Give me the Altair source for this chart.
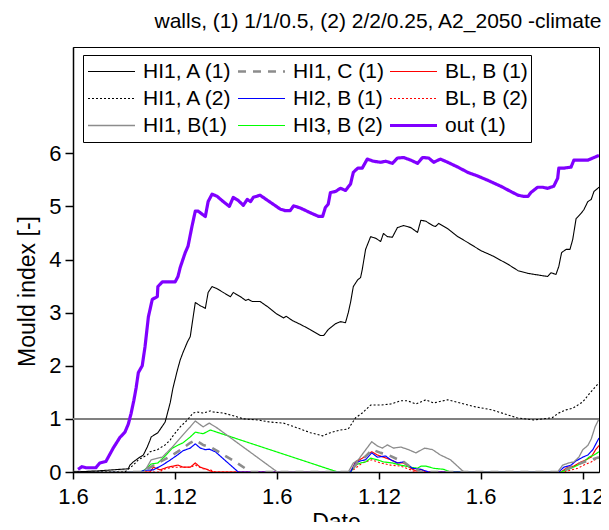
import altair as alt
import pandas as pd

FONT = "Liberation Sans"
START = "2049-06-01"

# legend order (Vega fills the 3-column legend column by column)
series_names = ["HI1, A (1)", "HI1, A (2)", "HI1, B(1)",
                "HI1, C (1)", "HI2, B (1)", "HI3, B (2)",
                "BL, B (1)", "BL, B (2)", "out (1)"]
series_colors = ["#000000", "#000000", "#8c8c8c",
                 "#8c8c8c", "#0000ff", "#00ff00",
                 "#ff0000", "#ff0000", "#8000ff"]
series_dash = [[1, 0], [2, 2], [1, 0],
               [8, 7], [1, 0], [1, 0],
               [1, 0], [2, 2], [1, 0]]
series_width = [1.1, 1.1, 1.3, 2.6, 1.2, 1.2, 1.2, 1.1, 3.2]

# day offsets from 1 June (first year) and mould index values
hi1_a1_days = [0, 43, 84, 99, 102, 108, 117, 126, 133, 138, 140, 152, 165, 174, 179, 187, 192, 197, 205, 210,
               219, 228, 237, 242, 249, 258, 269, 282, 287, 300, 309, 314, 321, 335, 350, 364, 377, 382, 393, 407,
               425, 443, 449, 457, 470, 479, 488, 493, 497, 502, 510, 515, 518, 524, 533, 542, 551, 556, 563, 572,
               581, 592, 605, 617, 623, 632, 644, 649, 655, 671, 689, 707, 730, 753, 779, 797, 814, 838, 850, 856,
               865, 870, 875, 883, 890, 895, 901, 910, 915, 922, 928, 933, 942]
hi1_a1_vals = [0, 0.02, 0.05, 0.06, 0.13, 0.19, 0.26, 0.32, 0.47, 0.6, 0.66, 0.74, 0.94, 1.3, 1.58, 1.92, 2.11, 2.25, 2.45, 2.55,
               3.19, 3.13, 3.08, 3.38, 3.49, 3.45, 3.38, 3.30, 3.38, 3.30, 3.23, 3.25, 3.21, 3.21, 3.1, 2.98, 2.9, 2.93, 2.85, 2.78,
               2.68, 2.57, 2.57, 2.68, 2.79, 2.83, 2.81, 3.0, 3.19, 3.49, 3.62, 3.66, 3.81, 4.19, 4.43, 4.40, 4.34, 4.49, 4.43, 4.42,
               4.60, 4.64, 4.60, 4.51, 4.74, 4.72, 4.64, 4.62, 4.68, 4.58, 4.43, 4.32, 4.17, 4.06, 3.91, 3.79, 3.74, 3.70, 3.68, 3.75,
               3.72, 3.87, 4.13, 4.19, 4.19, 4.38, 4.77, 4.87, 4.94, 5.09, 5.13, 5.28, 5.36]

hi1_c1_days = [0, 120, 127, 152, 172, 187, 197, 210, 219, 233, 246, 264, 294, 318, 497, 510, 520, 536, 551, 565,
               583, 592, 605, 617, 623, 874, 892, 910, 928, 942]
hi1_c1_vals = [0, 0, 0.02, 0.17, 0.28, 0.38, 0.45, 0.55, 0.6, 0.51, 0.47, 0.36, 0.17, 0, 0, 0.19, 0.25, 0.42, 0.36, 0.32,
               0.23, 0.19, 0.09, 0.04, 0, 0, 0.09, 0.17, 0.23, 0.28]

bl_b1_days = [0, 138, 144, 156, 169, 179, 188, 197, 210, 219, 228, 237, 246, 251, 497, 506, 518, 535, 545, 556,
              569, 581, 592, 605, 614, 623, 632, 874, 886, 897, 910, 919, 928, 936, 942]
bl_b1_vals = [0, 0, 0.09, 0.04, 0.09, 0.11, 0.13, 0.09, 0.09, 0.17, 0.09, 0.06, 0.02, 0, 0, 0.19, 0.26, 0.38, 0.32, 0.28,
              0.23, 0.17, 0.17, 0.07, 0.02, 0.05, 0, 0, 0.09, 0.11, 0.19, 0.23, 0.28, 0.42, 0.5]

hi1_a2_days = [0, 93, 108, 117, 133, 138, 151, 165, 174, 179, 192, 205, 215, 222, 233, 246, 251, 269, 287, 305,
               330, 353, 377, 402, 425, 447, 461, 479, 493, 506, 518, 533, 551, 569, 587, 599, 614, 632, 646, 671,
               719, 750, 795, 825, 858, 870, 883, 895, 913, 926, 942]
hi1_a2_vals = [0, 0, 0.13, 0.23, 0.32, 0.38, 0.42, 0.51, 0.6, 0.68, 0.85, 0.98, 1.11, 1.13, 1.11, 1.15, 1.13, 1.11, 1.06, 1.0,
               0.98, 0.94, 0.92, 0.83, 0.74, 0.68, 0.74, 0.79, 0.81, 1.02, 1.11, 1.26, 1.26, 1.28, 1.34, 1.34, 1.28, 1.36, 1.30, 1.36,
               1.23, 1.17, 1.02, 0.98, 1.02, 1.11, 1.17, 1.2, 1.32, 1.49, 1.68]

hi2_b1_days = [0, 120, 127, 144, 160, 172, 187, 197, 210, 219, 228, 237, 244, 255, 296, 497, 506, 515, 524, 535,
               545, 560, 569, 581, 592, 608, 623, 637, 870, 879, 892, 901, 913, 922, 931, 936, 942]
hi2_b1_vals = [0, 0, 0.03, 0.04, 0.13, 0.21, 0.32, 0.40, 0.45, 0.53, 0.45, 0.42, 0.43, 0.38, 0, 0, 0.17, 0.21, 0.23, 0.36,
               0.28, 0.30, 0.23, 0.17, 0.19, 0.07, 0.05, 0, 0, 0.09, 0.13, 0.21, 0.28, 0.32, 0.42, 0.52, 0.64]

bl_b2_days = [0, 156, 161, 179, 192, 210, 219, 233, 246, 255, 497, 502, 518, 535, 551, 569, 587, 605, 614,
              879, 892, 904, 915, 928, 942]
bl_b2_vals = [0, 0, 0.05, 0.09, 0.09, 0.09, 0.13, 0.06, 0.04, 0, 0, 0.04, 0.17, 0.23, 0.17, 0.13, 0.11, 0.04, 0,
              0, 0.04, 0.07, 0.13, 0.19, 0.27]

hi1_b1_days = [0, 127, 133, 140, 160, 178, 197, 210, 219, 233, 244, 258, 366, 493, 502, 511, 520, 535, 545, 554,
               563, 574, 587, 601, 614, 630, 644, 658, 676, 700, 868, 877, 888, 897, 906, 913, 922, 928, 935, 942]
hi1_b1_vals = [0, 0, 0.1, 0.23, 0.28, 0.47, 0.7, 0.85, 0.96, 0.85, 0.92, 0.83, 0, 0, 0.17, 0.23, 0.36, 0.57, 0.49, 0.45,
               0.51, 0.45, 0.47, 0.42, 0.36, 0.45, 0.42, 0.32, 0.23, 0, 0, 0.13, 0.17, 0.19, 0.28, 0.42, 0.5, 0.62, 0.85, 1.0]

hi3_b2_days = [0, 120, 127, 140, 152, 165, 178, 187, 197, 210, 219, 233, 246, 474, 497, 506, 515, 524, 533, 545,
               556, 572, 587, 605, 617, 623, 632, 646, 664, 676, 874, 892, 904, 915, 924, 933, 942]
hi3_b2_vals = [0, 0, 0.03, 0.15, 0.17, 0.3, 0.45, 0.5, 0.55, 0.66, 0.75, 0.72, 0.79, 0, 0, 0.13, 0.17, 0.19, 0.26, 0.23,
               0.19, 0.17, 0.13, 0.09, 0.07, 0.11, 0.11, 0.07, 0.05, 0, 0, 0.07, 0.13, 0.19, 0.28, 0.32, 0.38]

out1_days = [9, 16, 23, 41, 48, 59, 72, 84, 93, 99, 104, 109, 113, 117, 124, 129, 135, 142, 151, 152,
             160, 183, 188, 192, 201, 206, 213, 219, 224, 237, 242, 249, 258, 269, 280, 287, 296, 305, 312, 318,
             323, 335, 353, 371, 380, 389, 395, 407, 425, 440, 447, 452, 457, 461, 470, 479, 488, 497, 502, 510,
             518, 527, 538, 551, 560, 572, 581, 592, 605, 617, 626, 637, 646, 658, 671, 689, 707, 725, 743, 766,
             784, 797, 806, 815, 820, 832, 841, 850, 861, 868, 870, 879, 892, 897, 910, 922, 931, 942]
out1_vals = [0.05, 0.1, 0.08, 0.08, 0.17, 0.2, 0.45, 0.65, 0.75, 0.9, 1.1, 1.35, 1.58, 1.87, 2.0, 2.36, 2.92, 3.25, 3.3, 3.49,
             3.58, 3.58, 3.68, 3.85, 4.13, 4.25, 4.62, 4.91, 4.91, 4.81, 5.09, 5.23, 5.19, 5.09, 5.0, 5.17, 5.11, 5.02, 5.13, 5.09,
             5.17, 5.21, 5.08, 4.95, 4.92, 4.92, 5.01, 4.97, 4.88, 4.81, 4.81, 4.98, 5.04, 5.26, 5.28, 5.34, 5.30, 5.42, 5.64, 5.72,
             5.72, 5.89, 5.85, 5.83, 5.85, 5.81, 5.91, 5.92, 5.87, 5.81, 5.92, 5.91, 5.83, 5.89, 5.83, 5.74, 5.64, 5.57, 5.49, 5.38,
             5.28, 5.21, 5.19, 5.19, 5.26, 5.36, 5.36, 5.34, 5.38, 5.53, 5.72, 5.72, 5.74, 5.87, 5.87, 5.87, 5.91, 5.96]

# drawing order (bottom to top)
draw = [
    ("BL, B (2)", bl_b2_days, bl_b2_vals),
    ("BL, B (1)", bl_b1_days, bl_b1_vals),
    ("HI3, B (2)", hi3_b2_days, hi3_b2_vals),
    ("HI2, B (1)", hi2_b1_days, hi2_b1_vals),
    ("HI1, C (1)", hi1_c1_days, hi1_c1_vals),
    ("HI1, B(1)", hi1_b1_days, hi1_b1_vals),
    ("HI1, A (2)", hi1_a2_days, hi1_a2_vals),
    ("HI1, A (1)", hi1_a1_days, hi1_a1_vals),
    ("out (1)", out1_days, out1_vals),
]

rows = []
start = pd.Timestamp(START)
for order, (name, days, vals) in enumerate(draw):
    for d, v in zip(days, vals):
        rows.append({"series": name, "order": order,
                     "date": (start + pd.Timedelta(days=d)).strftime("%Y-%m-%dT%H:%M:%S"),
                     "value": v})
df = pd.DataFrame(rows)

tick_dates = [alt.DateTime(year=y, month=m, date=1) for y in (2049, 2050, 2051) for m in (6, 12)]
x_domain = [alt.DateTime(year=2049, month=6, date=1), alt.DateTime(year=2051, month=12, date=30)]

legend = alt.Legend(
    orient="none", legendX=10, legendY=8, columns=3, title=None,
    symbolType="stroke", symbolSize=2209, clipHeight=27, rowPadding=0,
    columnPadding=3, labelOffset=6, symbolOffset=0,
    labelFont=FONT, labelFontSize=21, labelColor="black", labelLimit=0,
    padding=3, strokeColor="black", fillColor="white",
)

lines = alt.Chart(df).mark_line(clip=True, strokeCap="butt", strokeJoin="round").encode(
    x=alt.X("date:T",
            scale=alt.Scale(domain=x_domain, nice=False),
            axis=alt.Axis(values=tick_dates, format="%-d.%-m", title="Date",
                          labelFlush=False, labelOverlap=False, grid=False,
                          labelFontSize=22, titleFontSize=23, tickSize=7, labelPadding=7,
                          titleY=57, titleBaseline="alphabetic")),
    y=alt.Y("value:Q",
            scale=alt.Scale(domain=[0, 8], nice=False),
            axis=alt.Axis(values=[0, 1, 2, 3, 4, 5, 6], title="Mould index [-]", grid=False,
                          labelFontSize=22, titleFontSize=23, tickSize=8, labelPadding=4,
                          titleX=-39, titleY=244, titleBaseline="alphabetic")),
    color=alt.Color("series:N", scale=alt.Scale(domain=series_names, range=series_colors), legend=legend),
    strokeDash=alt.StrokeDash("series:N", scale=alt.Scale(domain=series_names, range=series_dash), legend=legend),
    strokeWidth=alt.StrokeWidth("series:N", scale=alt.Scale(type="ordinal", domain=series_names, range=series_width), legend=None),
    order=alt.Order("order:Q"),
)

level_df = pd.DataFrame({"level": [1]})
rule = alt.Chart(level_df).mark_rule(color="#808080", strokeWidth=2).encode(y="level:Q")

chart = alt.layer(rule, lines).properties(
    width=526, height=425,
    title=alt.Title("walls, (1)  1/1/0.5, (2)  2/2/0.25, A2_2050 -climate",
                    font=FONT, fontSize=21, fontWeight="normal", color="black",
                    anchor="middle", dx=42, dy=22, offset=20, baseline="alphabetic", frame="group"),
    autosize=alt.AutoSizeParams(type="none"),
    padding={"left": 65, "top": 39, "right": 2, "bottom": 50},
).configure(font=FONT).configure_view(
    stroke="black", strokeWidth=1
).configure_axis(
    labelFont=FONT, titleFont=FONT, labelColor="black", titleColor="black",
    titleFontWeight="normal", domainColor="black", tickColor="black",
    domainWidth=1.5, tickWidth=1.5,
)

chart.save("out.html", embed_options={"renderer": "svg", "actions": False})
